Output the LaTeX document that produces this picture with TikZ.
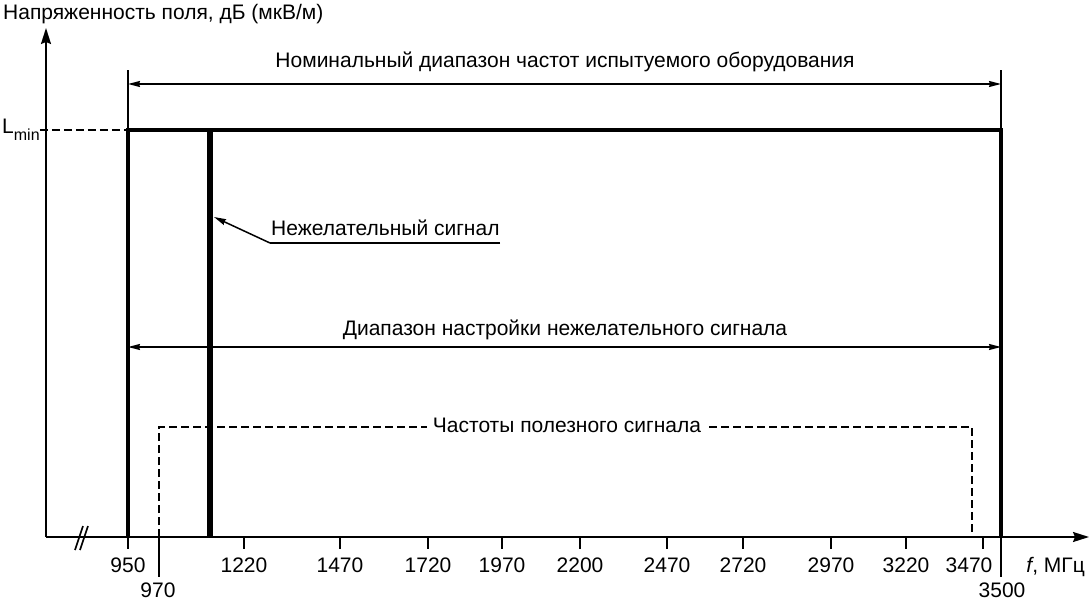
\documentclass[tikz,border=0pt]{standalone}
\usepackage{fontspec}
\setmainfont{Liberation Sans}
\usetikzlibrary{arrows.meta,positioning}

\begin{document}
\begin{tikzpicture}[x=1pt, y=-1pt,
      every node/.style={font=\fontsize{21}{25}\selectfont, inner sep=0pt},
      axis/.style={line width=1.8pt, -{Stealth[length=16pt, width=10pt, inset=2pt]}},
      thinline/.style={line width=1.6pt},
      frame/.style={line width=3.8pt, line join=miter},
      spur/.style={line width=6.5pt},
      span/.style={line width=1.5pt, {Stealth[length=12pt, width=6pt, inset=1pt]}-{Stealth[length=12pt, width=6pt, inset=1pt]}},
      pointer/.style={line width=1.5pt, -{Stealth[length=12pt, width=6pt, inset=1pt]}},
      dashline/.style={line width=1.6pt, dash pattern=on 8pt off 4pt},
      tick/.style={line width=1.6pt}]
    \useasboundingbox (0,0) rectangle (1091,601);

    % axes
    \coordinate (O) at (46,537);
    \coordinate (ytop) at (46,28);
    \coordinate (xend) at (1089,537);
    \draw[axis] (O) -- (ytop);
    \draw[axis] (O) -- (xend);
    \node[anchor=base west] (ylbl) at (3,20) {Напряженность поля, дБ (мкВ/м)};
    \node[anchor=base east] (xlbl) at (1085,572) {{\itshape f}, МГц};

    % axis break
    \coordinate (k1) at (75,550);  \coordinate (k2) at (83,526);
    \coordinate (k3) at (80,550);  \coordinate (k4) at (88,526);
    \draw[thinline] (k1) -- (k2);
    \draw[thinline] (k3) -- (k4);

    % ticks
    \foreach \x/\f in {128/950, 244/1220, 340/1470, 428/1720, 502/1970,
                       580/2200, 667/2470, 743/2720, 831/2970, 906/3220} {
      \draw[tick] (\x,537) -- (\x,549);
      \node[anchor=base] at (\x,572) {\f};
    }
    \draw[tick] (983,537) -- (983,549);
    \node[anchor=base] (t3470) at (969,572) {3470};
    \draw[tick] (159,537) -- (159,577);
    \node[anchor=base] (t970) at (158,597) {970};
    \draw[tick] (1001,537) -- (1001,577);
    \node[anchor=base] (t3500) at (1002,597) {3500};

    % frame of the equipment band
    \coordinate (bl) at (128,537);
    \coordinate (fl) at (128,130);
    \coordinate (fr) at (1001,130);
    \coordinate (br) at (1001,537);
    \coordinate (tl) at (128,70);
    \coordinate (tr) at (1001,70);
    \draw[frame] (bl) -- (fl) -- (fr) -- (br);
    \draw[thinline] (fl) -- (tl);
    \draw[thinline] (fr) -- (tr);

    % L_min
    \node[anchor=base west] (lmin) at (2,134)
      {L\raisebox{-7pt}{\fontsize{16}{16}\selectfont min}};
    \draw[dashline] (lmin.east |- fl) -- (fl);

    % nominal range
    \coordinate (n1) at (128,84);
    \coordinate (n2) at (1001,84);
    \draw[span] (n1) -- (n2);
    \node[anchor=base] (nlbl) at (565,68)
      {Номинальный диапазон частот испытуемого оборудования};

    % unwanted signal
    \coordinate (s1) at (210,130);
    \coordinate (s2) at (210,537);
    \draw[spur] (s1) -- (s2);
    \coordinate (p0) at (270,243);
    \coordinate (p1) at (500,243);
    \coordinate (ptip) at (214,217);
    \node[anchor=base west] (slbl) at (271,236) {Нежелательный сигнал};
    \draw[thinline] (p1) -- (p0);
    \draw[pointer] (p0) -- (ptip);

    % tuning range
    \coordinate (r1) at (128,347);
    \coordinate (r2) at (1001,347);
    \draw[span] (r1) -- (r2);
    \node[anchor=base] (rlbl) at (565,335)
      {Диапазон настройки нежелательного сигнала};

    % wanted signal frequencies
    \coordinate (u1) at (159,537);
    \coordinate (u2) at (159,427);
    \coordinate (u3) at (972,427);
    \coordinate (u4) at (972,537);
    \draw[dashline] (u1) -- (u2) -- (u3) -- (u4);
    \node[fill=white, inner xsep=6pt, inner ysep=2pt] (ulbl) at (567,425)
      {Частоты полезного сигнала};
  \end{tikzpicture}
\end{document}
